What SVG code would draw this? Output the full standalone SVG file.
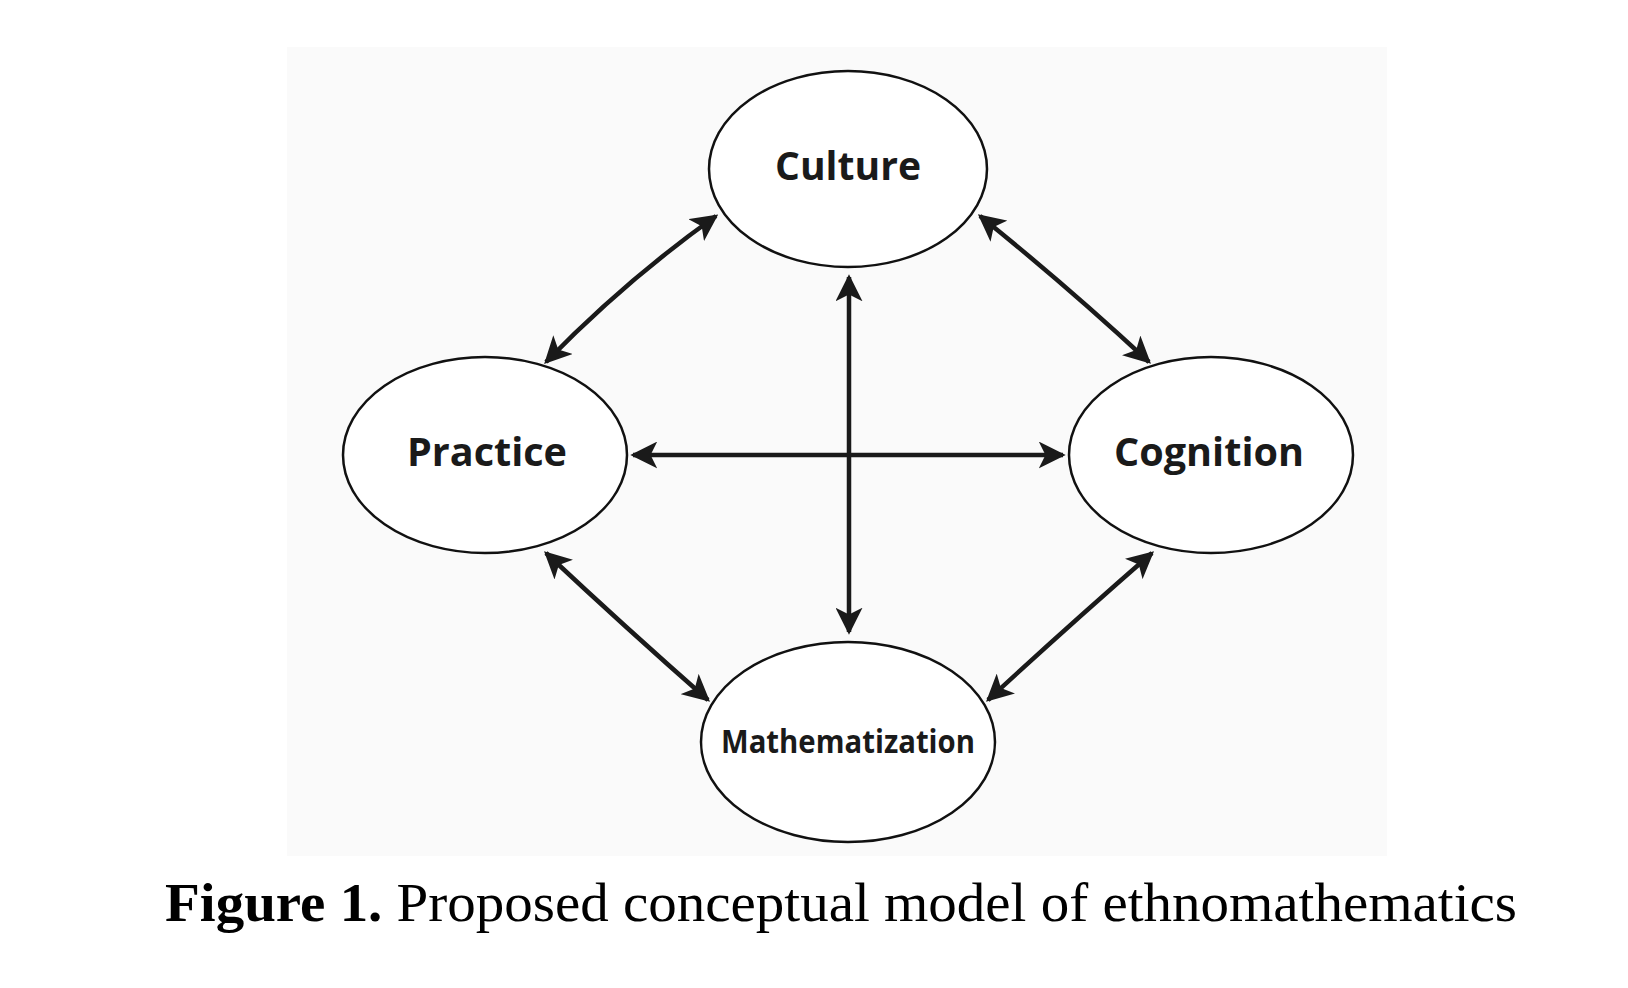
<svg xmlns="http://www.w3.org/2000/svg" width="1628" height="988" viewBox="0 0 1628 988">
<style>
.n{fill:#fff;stroke:#111;stroke-width:2.5}
.t{font-family:"Open Sans","DejaVu Sans",sans-serif;font-weight:700;fill:#1a1a1a;text-anchor:middle}
.c{stroke:#1a1a1a;stroke-width:4.5;fill:none;marker-start:url(#a);marker-end:url(#a)}
</style>
<defs><marker id="a" viewBox="0 0 10 10" refX="9" refY="5" markerWidth="6" markerHeight="6" orient="auto-start-reverse" markerUnits="strokeWidth"><path d="M0,0L10,5L0,10L2.5,5z" fill="#1a1a1a"/></marker></defs>
<rect width="1628" height="988" fill="#fff"/>
<rect x="287" y="47" width="1100" height="809" fill="#fafafa"/>
<g transform="translate(-4,0)">
<g id="connectors">
<path class="c" d="M720,216Q630,280 550,362"/>
<path class="c" d="M984,216Q1070,285 1153,362"/>
<path class="c" d="M550,553Q630,628 712,700"/>
<path class="c" d="M1156,553Q1070,628 992,700"/>
<path class="c" d="M853,277L853,632"/>
<path class="c" d="M637,455L1067,455" stroke-width="5"/>
</g>
<g id="culture"><ellipse class="n" cx="852" cy="169" rx="139" ry="98"/><text class="t" x="852" y="180" font-size="40" textLength="146" lengthAdjust="spacingAndGlyphs">Culture</text></g>
<g id="practice"><ellipse class="n" cx="489" cy="455" rx="142" ry="98"/><text class="t" x="491" y="466" font-size="40" textLength="160" lengthAdjust="spacingAndGlyphs">Practice</text></g>
<g id="cognition"><ellipse class="n" cx="1215" cy="455" rx="142" ry="98"/><text class="t" x="1213" y="466" font-size="40" textLength="190" lengthAdjust="spacingAndGlyphs">Cognition</text></g>
<g id="mathematization"><ellipse class="n" cx="852" cy="742" rx="147" ry="100"/><text class="t" x="852" y="753" font-size="32" textLength="254" lengthAdjust="spacingAndGlyphs">Mathematization</text></g>
</g>
<text x="165" y="921" font-family="'Liberation Serif',serif" font-size="54" fill="#000" textLength="1352" lengthAdjust="spacingAndGlyphs"><tspan font-weight="700">Figure 1.</tspan> Proposed conceptual model of ethnomathematics</text>
</svg>
